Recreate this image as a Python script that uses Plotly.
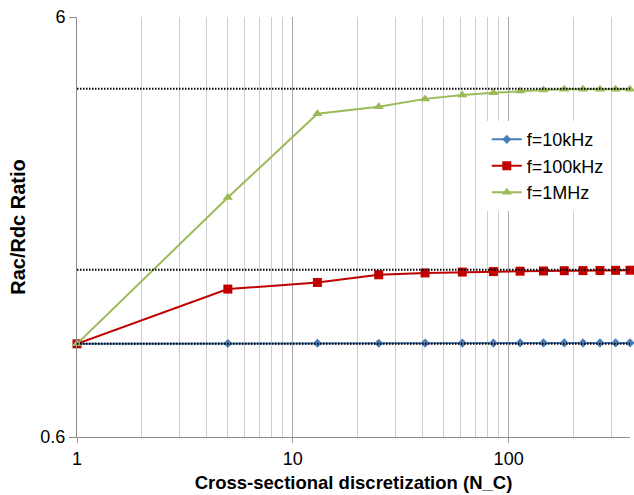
import plotly.graph_objects as go

# Cross-sectional discretization levels (centered square numbers)
n_c = [1, 5, 13, 25, 41, 61, 85, 113, 145, 181, 221, 265, 313, 365]

# Rac/Rdc ratio for each frequency
ratio_10khz = [1.0, 1.002, 1.003, 1.003, 1.004, 1.004, 1.004, 1.005, 1.005, 1.005, 1.005, 1.005, 1.005, 1.005]
ratio_100khz = [1.0, 1.35, 1.40, 1.46, 1.475, 1.482, 1.486, 1.489, 1.491, 1.493, 1.494, 1.495, 1.496, 1.497]
ratio_1mhz = [1.0, 2.23, 3.53, 3.67, 3.83, 3.91, 3.96, 4.0, 4.02, 4.035, 4.04, 4.04, 4.04, 4.04]

# Converged (analytical) ratio levels shown as dotted reference lines
ref_levels = [1.0, 1.5, 4.05]

series_names = ["f=10kHz", "f=100kHz", "f=1MHz"]
series_colors = ["#4a7ebb", "#c00000", "#9bbb59"]
series_symbols = ["diamond", "square", "triangle-up"]
series_sizes = [7, 9, 9]
series_values = [ratio_10khz, ratio_100khz, ratio_1mhz]

x_major = [1, 10, 100]
x_minor = [2, 3, 4, 5, 6, 7, 8, 9, 20, 30, 40, 50, 60, 70, 80, 90, 200, 300]
y_ticks = [0.6, 6]
y_ticktext = ["0.6", "6"]

FONT = "Liberation Sans, Arial, Helvetica, sans-serif"

fig = go.Figure()

for name, vals, col, sym, sz in zip(series_names, series_values, series_colors, series_symbols, series_sizes):
    fig.add_trace(go.Scatter(
        x=n_c, y=vals, name=name, mode="lines+markers",
        line=dict(color=col, width=2),
        marker=dict(symbol=sym, size=sz, color=col),
        cliponaxis=False,
    ))

# dotted convergence levels drawn over the data
for lvl in ref_levels:
    fig.add_hline(y=lvl, line=dict(color="#000000", width=2, dash="1.5px,1.5px"), layer="above")

fig.update_layout(
    width=634, height=495,
    margin=dict(l=77, r=4, t=17, b=58),
    paper_bgcolor="white", plot_bgcolor="white",
    font=dict(family=FONT, color="#000000"),
    showlegend=True,
    legend=dict(
        x=0.741, y=0.752, xanchor="left", yanchor="top",
        bgcolor="white", borderwidth=0,
        font=dict(size=18, family=FONT),
        itemwidth=30, tracegroupgap=0,
    ),
    xaxis=dict(
        type="log", range=[0, 2.5623],
        tickvals=x_major, ticktext=[str(v) for v in x_major],
        ticks="outside", ticklen=5, tickcolor="#a0a0a0",
        showgrid=True, gridcolor="#a8a8a8", gridwidth=1,
        minor=dict(tickvals=x_minor, showgrid=True, gridcolor="#cfcfcf", gridwidth=1, ticks=""),
        showline=True, linecolor="#8c8c8c", linewidth=1,
        tickfont=dict(size=18),
        title=dict(text="<b>Cross-sectional discretization (N_C)</b>", font=dict(size=18.5), standoff=8),
        zeroline=False,
    ),
    yaxis=dict(
        type="log", range=[-0.22185, 0.77815],
        tickvals=y_ticks, ticktext=y_ticktext,
        ticks="outside", ticklen=7, tickcolor="#8c8c8c",
        showgrid=False,
        showline=True, linecolor="#8c8c8c", linewidth=1,
        tickfont=dict(size=18),
        title=dict(text="<b>Rac/Rdc Ratio</b>", font=dict(size=20), standoff=9),
        zeroline=False,
    ),
)

fig.write_html("out.html")
